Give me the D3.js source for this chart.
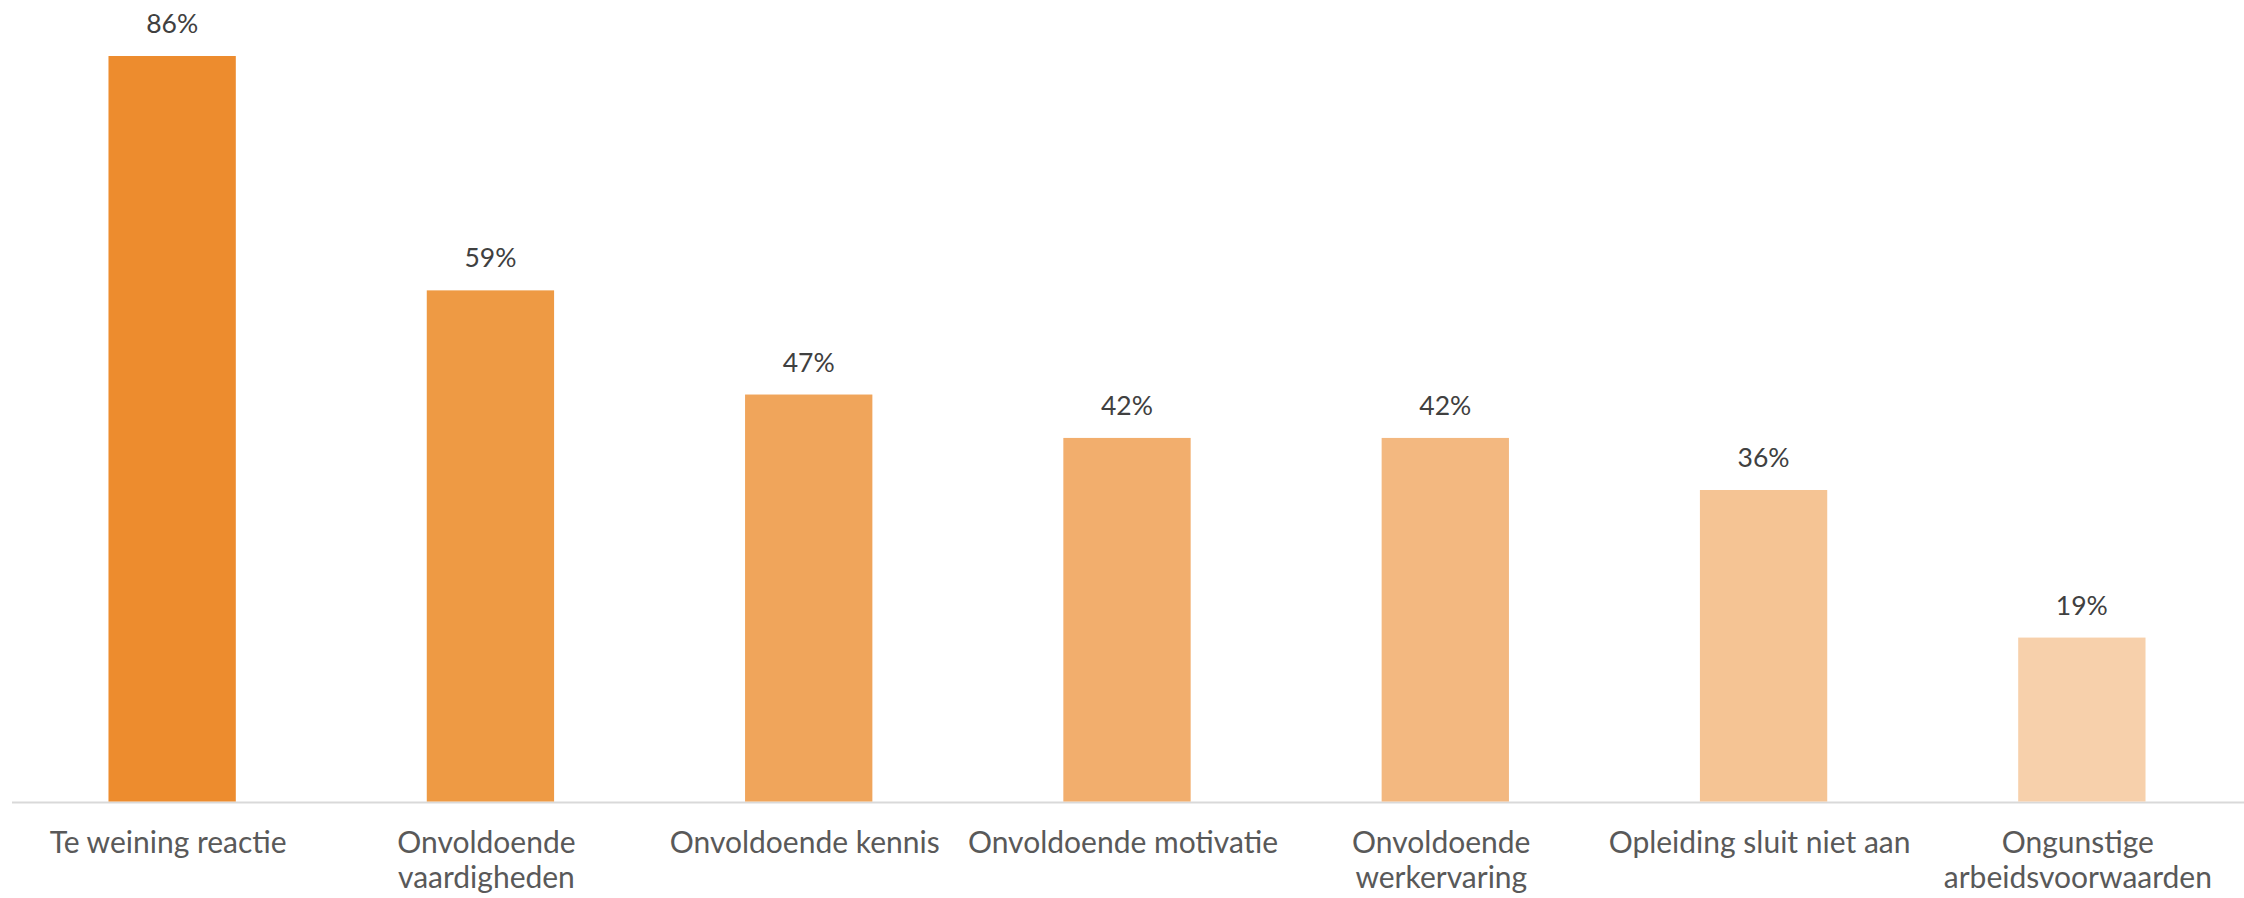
<!DOCTYPE html>
<html>
<head>
<meta charset="utf-8">
<script src="https://cdn.jsdelivr.net/npm/d3@7"></script>
<style>
html,body{margin:0;padding:0;background:#fff;}
svg{display:block;}
</style>
</head>
<body>
<svg id="chart" width="2244" height="898"></svg>
<script>
const categories = [
  ["Te weining reactie"],
  ["Onvoldoende", "vaardigheden"],
  ["Onvoldoende kennis"],
  ["Onvoldoende motivatie"],
  ["Onvoldoende", "werkervaring"],
  ["Opleiding sluit niet aan"],
  ["Ongunstige", "arbeidsvoorwaarden"]
];
const values = [86, 59, 47, 42, 42, 36, 19];
const colors = ["#ED8C2E", "#EE9A44", "#F0A55B", "#F2AE6D", "#F3B880", "#F5C494", "#F7D0AB"];

const svg = d3.select("#chart");
const font = "Lato, 'Open Sans', sans-serif";

const x = d3.scaleBand()
  .domain(d3.range(values.length))
  .range([13, 2241])
  .paddingInner(0.6)
  .paddingOuter(0.3);

const y = d3.scaleLinear()
  .domain([0, 86])
  .range([802.5, 56]);

// baseline
svg.append("line")
  .attr("x1", 12).attr("x2", 2244)
  .attr("y1", y(0)).attr("y2", y(0))
  .attr("stroke", "#D9D9D9").attr("stroke-width", 2);

svg.append("g").selectAll("rect")
  .data(values)
  .join("rect")
  .attr("x", (d, i) => x(i))
  .attr("width", x.bandwidth())
  .attr("y", d => y(d))
  .attr("height", d => y(0) - y(d) - 1)
  .attr("fill", (d, i) => colors[i]);

svg.append("g").selectAll("text")
  .data(values)
  .join("text")
  .attr("x", (d, i) => x(i) + x.bandwidth() / 2)
  .attr("y", d => y(d) - 23)
  .attr("text-anchor", "middle")
  .attr("font-family", font)
  .attr("font-size", 26.5)
  .attr("fill", "#404040")
  .text(d => d + "%");

const lab = svg.append("g").selectAll("text")
  .data(categories)
  .join("text")
  .attr("text-anchor", "middle")
  .attr("font-family", font)
  .attr("font-size", 30)
  .attr("fill", "#595959");
lab.each(function(lines, i) {
  const t = d3.select(this);
  lines.forEach((l, j) => {
    t.append("tspan")
      .attr("x", x(i) + x.bandwidth() / 2 - 4)
      .attr("y", 853 + j * 35)
      .text(l);
  });
});
</script>
</body>
</html>
